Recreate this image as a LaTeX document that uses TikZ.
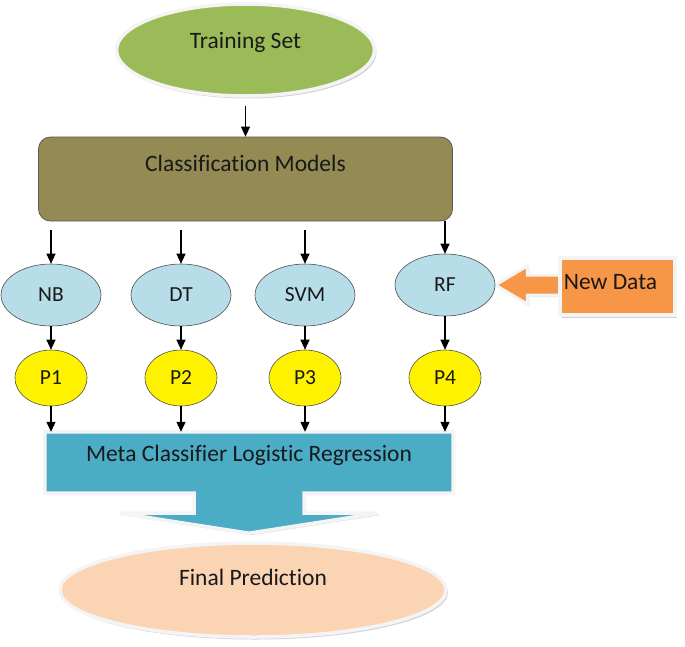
\documentclass[tikz,border=0pt]{standalone}
\usepackage{fontspec}
\setmainfont{Carlito}[Ligatures=NoCommon]
\usetikzlibrary{shapes.geometric,shadows,arrows.meta,backgrounds}

\definecolor{trainGreen}{HTML}{9BBB59}
\definecolor{modelOlive}{HTML}{948A54}
\definecolor{algoBlue}{HTML}{B7DEE8}
\definecolor{metaBlue}{HTML}{4BACC6}
\definecolor{predPeach}{HTML}{FBD4B4}
\definecolor{dataOrange}{HTML}{F79646}
\definecolor{rimWhite}{HTML}{F4F4F4}
\definecolor{shadeGray}{HTML}{A9A4B4}

\begin{document}
\begin{tikzpicture}[x=1pt, y=-1pt,
  every node/.style={font=\fontsize{23.5}{28}\selectfont, text=black!90},
  big/.style={ellipse, draw=rimWhite, line width=3.5pt, drop shadow={shadow xshift=2pt, shadow yshift=-2.5pt, fill=shadeGray}},
  algo/.style={ellipse, draw=black!70, fill=algoBlue, line width=0.6pt, minimum width=100pt, minimum height=62pt, font=\fontsize{21.5}{25}\selectfont},
  pred/.style={ellipse, draw=black!70, fill=yellow, line width=0.6pt, minimum width=72pt, minimum height=56pt, font=\fontsize{21.5}{25}\selectfont},
  link/.style={-{Triangle[width=9pt,length=10pt]}, line width=1.1pt}]
  \useasboundingbox (0,0) rectangle (685,646);

  \node[big, fill=trainGreen, minimum width=258pt, minimum height=92pt, label={[yshift=8pt]center:Training Set}] (train) at (245.5,50) {};
  \node[draw=black!65, fill=modelOlive, rounded corners=12pt, line width=0.8pt, minimum width=414pt, minimum height=84pt, label={[yshift=16pt]center:Classification Models}] (cls) at (245.5,179) {};

  \node[algo] (nb) at (51,295) {NB};
  \node[algo] (dt) at (181,295) {DT};
  \node[algo] (svm) at (305,295) {SVM};
  \node[algo] (rf) at (445,285) {RF};

  \node[pred] (p1) at (51,378) {P1};
  \node[pred] (p2) at (181,378) {P2};
  \node[pred] (p3) at (305,378) {P3};
  \node[pred] (p4) at (445,378) {P4};

  \node[minimum width=408pt, minimum height=61pt, label={[yshift=7pt]center:Meta Classifier Logistic Regression}] (meta) at (249,462.5) {};
  \node[big, fill=predPeach, minimum width=386pt, minimum height=94pt, label={[yshift=13pt]center:Final Prediction}] (final) at (253,590) {};
  \node[fill=dataOrange, draw=rimWhite, line width=3.5pt, drop shadow={shadow xshift=2pt, shadow yshift=-2.5pt, fill=shadeGray}, minimum width=115pt, minimum height=57pt, label={[xshift=-7pt, yshift=4pt]center:New Data}] (newdata) at (617.5,286.5) {};

  % callout under the meta classifier and the new data arrow
  \begin{scope}[on background layer]
    \draw[rimWhite, line width=3.5pt, fill=metaBlue, drop shadow={shadow xshift=2pt, shadow yshift=-2pt, fill=shadeGray!70}]
      (meta.north west) -- (meta.north east) -- (meta.south east) -- ([xshift=55pt]meta.south) -- ++(0,20) -- ++(74,0)
      -- ++(-129,20) -- ++(-129,-20) -- ++(74,0) -- ([xshift=-55pt]meta.south) -- (meta.south west) -- cycle;
    \draw[rimWhite, line width=3pt, fill=dataOrange, drop shadow={shadow xshift=2pt, shadow yshift=-2pt, fill=shadeGray!70}]
      (rf.east) -- ++(32,-19) -- ++(0,9) -- ++(34,0) -- ++(0,20) -- ++(-34,0) -- ++(0,9) -- cycle;
  \end{scope}

  \draw[link, shorten <=8pt] (train.south) -- (cls.north);
  \foreach \n in {nb,dt,svm}
    \draw[link, shorten <=9pt] (cls.south -| \n) -- (\n.north);
  \draw[link] (cls.south -| rf) -- (rf.north);
  \foreach \a/\p in {nb/p1,dt/p2,svm/p3,rf/p4}
    \draw[link] (\a.south) -- (\p.north);
  \foreach \p in {p1,p2,p3,p4}
    \draw[link] (\p.south) -- (\p |- meta.north);

\end{tikzpicture}
\end{document}
